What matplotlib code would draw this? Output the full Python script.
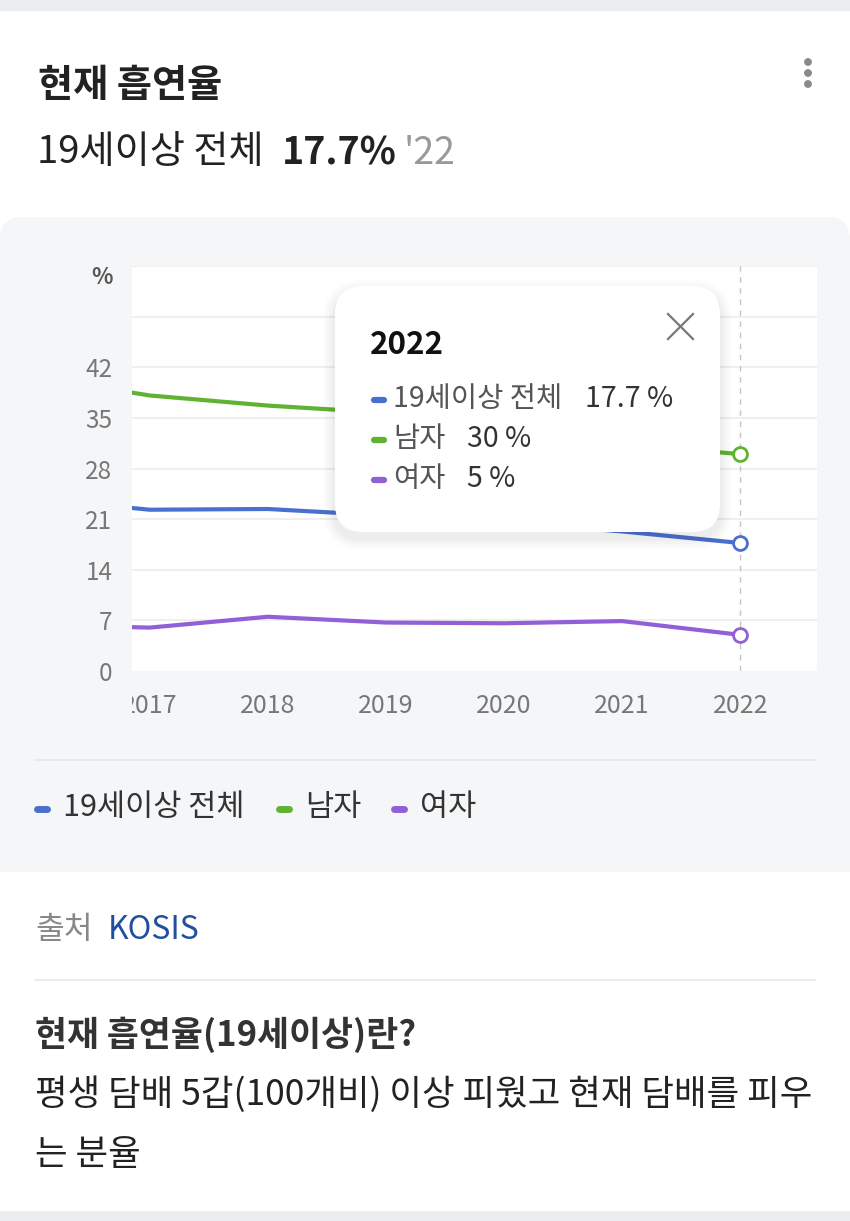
import matplotlib
matplotlib.use('Agg')
import matplotlib.pyplot as plt
from matplotlib.patches import FancyBboxPatch, Rectangle, Circle
from matplotlib.transforms import Bbox, TransformedBbox

plt.rcParams['font.family'] = ['Noto Sans CJK KR', 'DejaVu Sans']

# data (current smoking rate, %)
years = [2016, 2017, 2018, 2019, 2020, 2021, 2022]
total = [23.9, 22.3, 22.4, 21.5, 20.6, 19.3, 17.7]
male = [40.7, 38.1, 36.7, 35.7, 34.0, 31.3, 30.0]
female = [6.4, 6.0, 7.5, 6.7, 6.6, 6.9, 5.0]
series_names = ['19세이상 전체', '남자', '여자']
series_colors = ['#4a70cf', '#60b332', '#9260d6']
x_ticks = [2017, 2018, 2019, 2020, 2021, 2022]
y_ticks = [0, 7, 14, 21, 28, 35, 42]

W, H = 850, 1221
fig = plt.figure(figsize=(W / 100, H / 100), dpi=100)
fig.patch.set_facecolor('white')

# background layer in pixel coords
bg = fig.add_axes([0, 0, 1, 1], zorder=0)
bg.set_xlim(0, W)
bg.set_ylim(H, 0)
bg.axis('off')
bg.add_patch(Rectangle((0, 0), W, 10, color='#ecedf1'))
bg.add_patch(Rectangle((0, 1210), W, 11, color='#ecedf1'))
bg.add_patch(FancyBboxPatch((0, 217), W, 680, boxstyle='round,pad=0,rounding_size=22',
                            fc='#f5f6f8', ec='none'))
bg.add_patch(Rectangle((0, 872), W, 338, color='white'))
bg.plot([35, 815], [760, 760], color='#e6e7eb', lw=1.2)
bg.plot([35, 815], [980, 980], color='#e6e7eb', lw=1.2)

# header
bg.text(38, 85, '현재 흡연율', fontsize=27.5, fontweight='bold', color='#222222', va='center')
bg.text(37, 153, '19세이상 전체', fontsize=27.5, color='#222222', va='center')
bg.text(282, 153, '17.7%', fontsize=27, fontweight='bold', color='#222222', va='center')
bg.text(404, 153, "'22", fontsize=27, color='#999999', va='center')
for yy in [62, 73, 84]:
    bg.add_patch(Circle((808, yy), 3.2, color='#8a8a8a'))

# legend
lx = [35, 277, 392]
for i in range(3):
    bg.plot([lx[i] + 2, lx[i] + 12], [809, 809], color=series_colors[i], lw=5,
            solid_capstyle='round')
    bg.text(lx[i] + 28, 808, series_names[i], fontsize=22, color='#333333', va='center')

# footer
bg.text(35, 930, '출처', fontsize=22.5, color='#888888', va='center')
bg.text(108, 930, 'KOSIS', fontsize=23, color='#1f4f9e', va='center')
bg.text(35, 1035, '현재 흡연율(19세이상)란?', fontsize=25, fontweight='bold', color='#333333', va='center')
bg.text(35, 1095, '평생 담배 5갑(100개비) 이상 피웠고 현재 담배를 피우', fontsize=25.5,
        color='#222222', va='center')
bg.text(35, 1155, '는 분율', fontsize=25.5, color='#222222', va='center')

# chart
left, right, top, bottom = 132, 817, 266, 671
ax = fig.add_axes([left / W, 1 - bottom / H, (right - left) / W, (bottom - top) / H], zorder=1)
ax.set_facecolor('white')
ax.set_xlim(2016.85, 2022.65)
ax.set_ylim(0, 56)
for s in ax.spines.values():
    s.set_visible(False)
for g in range(7, 57, 7):
    ax.axhline(g, color='#ececee', lw=1.2, zorder=1)
ax.axvline(2022, color='#c4c4c4', lw=1, ls=(0, (4, 4)), zorder=1)

for vals, c in zip([total, male, female], series_colors):
    ax.plot(years, vals, color=c, lw=3, zorder=3, solid_joinstyle='round')
    ax.plot(years[-1], vals[-1], 'o', ms=10, mfc='white', mec=c, mew=2, zorder=4)

ax.set_xticks(x_ticks)
ax.set_xticklabels([str(y) for y in x_ticks])
ax.set_yticks(y_ticks)
ax.set_yticklabels([str(y) for y in y_ticks])
ax.tick_params(axis='both', length=0, colors='#777777', labelsize=17.5)
ax.tick_params(axis='x', pad=16, labelsize=18)
ax.tick_params(axis='y', pad=14)
clip = TransformedBbox(Bbox([[left / W, 0], [right / W, 1]]), fig.transFigure)
for lbl in ax.get_xticklabels():
    lbl.set_clip_box(clip)
    lbl.set_clip_on(True)
bg.text(102, 278, '%', fontsize=16, fontweight='bold', color='#555555', ha='center', va='center')

# tooltip overlay
ov = fig.add_axes([0, 0, 1, 1], zorder=2)
ov.set_xlim(0, W)
ov.set_ylim(H, 0)
ov.axis('off')
for k, a in enumerate([0.025, 0.02, 0.015, 0.01]):
    d = 3 + 3 * k
    ov.add_patch(FancyBboxPatch((335 - d, 288 - d + 4), 385 + 2 * d, 246 + 2 * d,
                                boxstyle='round,pad=0,rounding_size=%d' % (28 + d),
                                fc='black', ec='none', alpha=a))
ov.add_patch(FancyBboxPatch((335, 286), 385, 246, boxstyle='round,pad=0,rounding_size=28',
                            fc='white', ec='none'))
ov.plot([668, 693], [314, 339], color='#777777', lw=1.6)
ov.plot([668, 693], [339, 314], color='#777777', lw=1.6)
ov.text(370, 345, str(years[-1]), fontsize=22.5, fontweight='bold', color='#111111', va='center')
rows_y = [399, 439, 479]
val_x = [585, 467, 467]
last_vals = [total[-1], male[-1], female[-1]]
for i in range(3):
    ov.plot([374, 384], [rows_y[i] + 1, rows_y[i] + 1], color=series_colors[i], lw=4.5,
            solid_capstyle='round')
    ov.text(393, rows_y[i], series_names[i], fontsize=20.5, color='#555555', va='center')
    ov.text(val_x[i], rows_y[i], '%g %%' % last_vals[i], fontsize=20.5, color='#333333', va='center')

fig.savefig('out.png', dpi=100)
